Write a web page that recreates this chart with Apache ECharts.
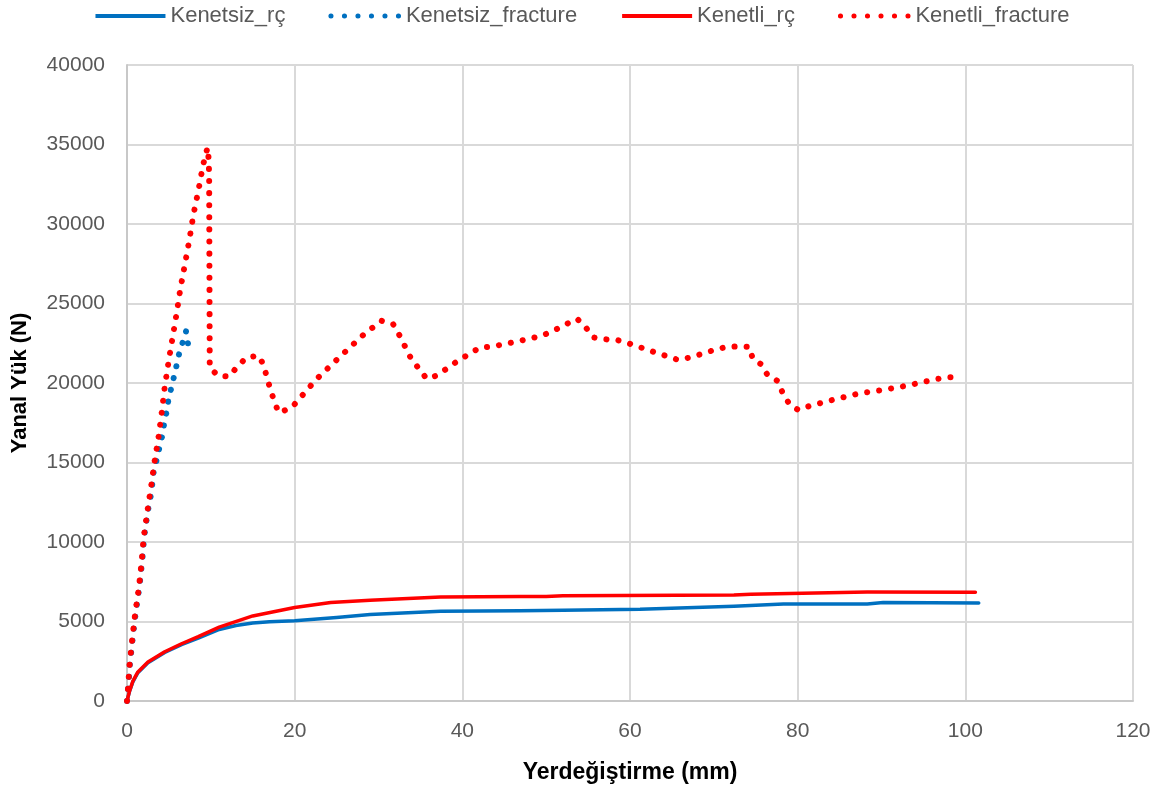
<!DOCTYPE html>
<html>
<head>
<meta charset="utf-8">
<script src="https://cdn.jsdelivr.net/npm/echarts@6/dist/echarts.min.js"></script>
<style>html,body{margin:0;padding:0;background:#fff}#c{width:1163px;height:791px}</style>
</head>
<body>
<div id="c"></div>
<script>
const seriesNames = ['Kenetsiz_rç', 'Kenetsiz_fracture', 'Kenetli_rç', 'Kenetli_fracture'];
const xTicks = [0, 20, 40, 60, 80, 100, 120];
const yTicks = [0, 5000, 10000, 15000, 20000, 25000, 30000, 35000, 40000];

const kenetsizRc = [
  [0,0],[0.3,600],[0.7,1200],[1.3,1780],[2.5,2400],[4.5,3050],[6.5,3550],[8.5,3950],
  [11,4500],[13,4750],[15,4900],[17,4980],[20,5050],[25,5250],[29,5440],[37.4,5650],
  [46.9,5670],[52,5700],[58.9,5760],[61.2,5770],[72.4,5960],[78.3,6100],[88.3,6100],
  [90.2,6200],[101.6,6170]
];
const kenetsizFracture = [
  [0,0],[0.14,780],[0.35,2360],[0.68,3930],[1.05,5600],[1.48,7180],[1.8,8750],[2.05,10330],
  [2.51,12010],[2.79,12750],[2.98,13480],[3.15,14320],[3.5,15090],[3.82,15830],[4.18,16620],
  [4.42,17400],[4.7,18140],[4.94,18940],[5.3,19720],[5.61,20410],[5.93,21150],[6.25,21920],
  [6.68,22620],[7.04,23250],[7.28,22470]
];
const kenetliRc = [
  [0,0],[0.3,620],[0.7,1250],[1.3,1830],[2.5,2450],[4.5,3100],[6.5,3600],[8.5,4050],
  [11,4650],[15,5350],[20,5880],[24.3,6200],[29,6340],[37.4,6540],[47,6580],[50,6580],
  [52,6620],[58.9,6640],[72.4,6660],[74.4,6720],[88.3,6860],[101.2,6840]
];
const kenetliFracture = [
  [0,0],[0.12,780],[0.32,2360],[0.64,3930],[1.0,5600],[1.43,7180],[1.75,8750],[2.0,10330],
  [2.43,11940],[2.86,13430],[3.27,15010],[3.75,16560],[4.14,18140],[4.5,19750],[4.94,21280],
  [5.42,22810],[5.93,24410],[6.37,25940],[6.92,27500],[7.45,29040],[7.92,30580],[8.52,32120],
  [9.07,33700],[9.6,34800],[9.75,34060],[9.8,32870],[9.87,20960],[10.86,20460],[12.16,20400],
  [13.16,21030],[14.23,21590],[15.7,21720],[16.3,21130],[16.7,20330],[17.13,19560],[17.6,18800],
  [18.1,18130],[19.64,18450],[22.58,20230],[25.88,21890],[28.14,23000],[30.33,23920],[31.76,23690],
  [32.5,23000],[33.87,21550],[35.74,20270],[36.93,20460],[39.43,21380],[42.06,22220],[43.57,22300],
  [45.1,22450],[48.06,22790],[49.53,22980],[50.97,23310],[52.35,23690],[53.7,24030],[54.7,23520],
  [55.6,22870],[57,22750],[58.48,22700],[59.98,22470],[62.85,21950],[65.75,21450],[67.19,21610],
  [70.12,22090],[71.6,22280],[73.07,22300],[74.22,22280],[74.65,21510],[75.65,21180],[76.37,20530],
  [77.6,20130],[78.2,19390],[79,18680],[80.07,18300],[81.4,18550],[84.43,18970],[87.38,19350],
  [90.4,19580],[93.38,19870],[96.36,20230],[97.9,20360],[99.4,20360]
];

const BLUE = '#0070C0', RED = '#FF0000';
const FONT = "'Liberation Sans', Arial, sans-serif";
const dotted = (c) => ({ color: c, width: 6, type: [0.1, 12], cap: 'round', join: 'round' });
const solid = (c) => ({ color: c, width: 3.5, type: 'solid', cap: 'round', join: 'round' });
const legendDots = { width: 5, type: [0.1, 13.4], cap: 'round' };
const legendSolid = { width: 4, type: 'solid', cap: 'butt' };

const chart = echarts.init(document.getElementById('c'), null, { renderer: 'canvas' });
chart.setOption({
  animation: false,
  backgroundColor: '#fff',
  grid: { left: 127, right: 30, top: 65, bottom: 90, containLabel: false },
  legend: {
    top: 0, left: 'center', itemWidth: 70, itemHeight: 14, itemGap: 43,
    itemStyle: { opacity: 0 },
    textStyle: { fontFamily: FONT, fontSize: 22, color: '#595959' },
    data: [
      { name: seriesNames[0], lineStyle: legendSolid },
      { name: seriesNames[1], lineStyle: legendDots },
      { name: seriesNames[2], lineStyle: legendSolid },
      { name: seriesNames[3], lineStyle: legendDots }
    ]
  },
  xAxis: {
    type: 'value', min: xTicks[0], max: xTicks[xTicks.length - 1], interval: 20,
    name: 'Yerdeğiştirme (mm)', nameLocation: 'middle', nameGap: 60,
    nameTextStyle: { fontFamily: FONT, fontSize: 23, fontWeight: 'bold', color: '#000' },
    axisLine: { show: true, lineStyle: { color: '#c8c8c8', width: 2 } },
    axisTick: { show: false },
    axisLabel: { margin: 20, fontFamily: FONT, fontSize: 21, color: '#595959', formatter: (v) => String(v) },
    splitLine: { show: true, lineStyle: { color: '#d9d9d9', width: 2 } }
  },
  yAxis: {
    type: 'value', min: yTicks[0], max: yTicks[yTicks.length - 1], interval: 5000,
    name: 'Yanal Yük (N)', nameLocation: 'middle', nameGap: 96,
    nameTextStyle: { fontFamily: FONT, fontSize: 22, fontWeight: 'bold', color: '#000' },
    axisLine: { show: true, lineStyle: { color: '#c8c8c8', width: 2 } },
    axisTick: { show: false },
    axisLabel: { margin: 22, fontFamily: FONT, fontSize: 21, color: '#595959', formatter: (v) => String(v) },
    splitLine: { show: true, lineStyle: { color: '#d9d9d9', width: 2 } }
  },
  series: [
    { name: seriesNames[0], type: 'line', data: kenetsizRc, showSymbol: false, symbol: 'none', lineStyle: solid(BLUE), itemStyle: { color: BLUE }, z: 3 },
    { name: seriesNames[1], type: 'line', data: kenetsizFracture, showSymbol: false, symbol: 'none', lineStyle: dotted(BLUE), itemStyle: { color: BLUE }, z: 2 },
    { name: seriesNames[2], type: 'line', data: kenetliRc, showSymbol: false, symbol: 'none', lineStyle: solid(RED), itemStyle: { color: RED }, z: 4 },
    { name: seriesNames[3], type: 'line', data: kenetliFracture, showSymbol: false, symbol: 'none', lineStyle: dotted(RED), itemStyle: { color: RED }, z: 5 }
  ]
});
</script>
</body>
</html>
